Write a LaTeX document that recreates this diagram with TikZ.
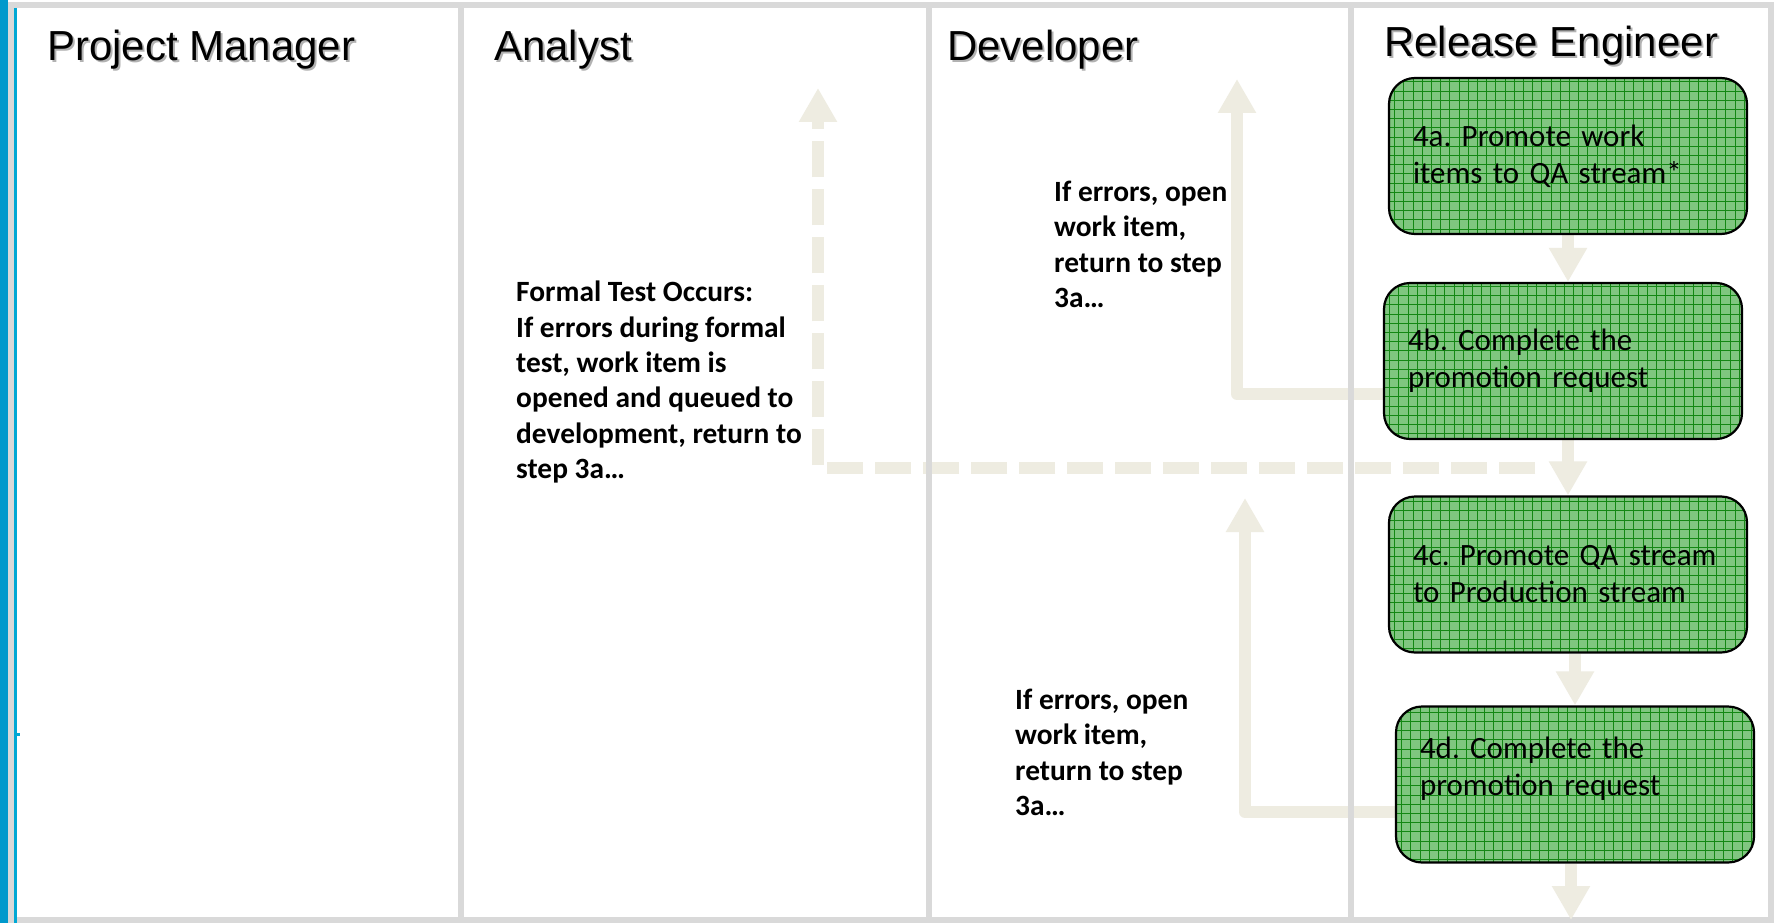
\documentclass[tikz,border=0pt]{standalone}
\usepackage{fontspec}
\setmainfont{Carlito}
\newfontfamily\headfont{Liberation Sans}
\usetikzlibrary{arrows.meta,calc}
\frenchspacing

\definecolor{laneline}{HTML}{D9D9D9}
\definecolor{bandblue}{HTML}{0099CC}
\definecolor{flowbeige}{HTML}{EEECE1}
\definecolor{stepgreen}{RGB}{128,198,128}
\definecolor{gridgreen}{RGB}{20,135,20}

\pgfdeclarelayer{back}
\pgfdeclarelayer{flow}
\pgfdeclarelayer{lanes}
\pgfsetlayers{back,flow,lanes,main}

\tikzset{
  stepbox/.style={draw=black, line width=2.2pt, rounded corners=26pt,
    fill=stepgreen, minimum width=358pt, minimum height=156pt,
    text width=310pt, align=left, inner xsep=24pt, inner ysep=0pt,
    font=\fontsize{31}{37}\selectfont,
    path picture={\draw[gridgreen, line width=0.8pt, step=9.2pt]
      (path picture bounding box.south west) grid (path picture bounding box.north east);}},
  note/.style={font=\bfseries\fontsize{29.4}{35.3}\selectfont, align=left,
    anchor=north west, inner sep=0pt},
  lanehead/.style={font=\headfont\fontsize{42}{50}\selectfont,
    anchor=base west, inner sep=0pt},
  headshadow/.style={lanehead, text=black!30},
  flowarrow/.style={draw=flowbeige, line width=12pt, line join=round,
    -{Triangle[width=36pt,length=34pt]}},
  dashflow/.style={flowarrow, dash pattern=on 36pt off 12pt},
}

\begin{document}
\begin{tikzpicture}[x=1pt,y=-1pt]
\useasboundingbox (0,0) rectangle (1776,923);

\begin{pgfonlayer}{back}
\fill[white] (0,0) rectangle (1776,923);
% left accent band
\fill[bandblue] (0,0) rectangle (8,923);
% outer frame
\draw[laneline, line width=6pt] (11,5) rectangle (1771,920);
\fill[bandblue!85!cyan] (14,8) rectangle (17,923);
\fill[bandblue!85!cyan] (17,733) rectangle (20,736);
\end{pgfonlayer}

% lane dividers drawn over the flow arrows
\begin{pgfonlayer}{lanes}
\draw[laneline, line width=6pt] (461,5) -- (461,920);
\draw[laneline, line width=6pt] (929,5) -- (929,920);
\draw[laneline, line width=6pt] (1351,5) -- (1351,920);
\end{pgfonlayer}

% lane headers
\node[headshadow] (shpm) at (49,63) {Project Manager};
\node[lanehead]   (hpm)  at (47,61) {Project Manager};
\node[headshadow] (shan) at (496,63) {Analyst};
\node[lanehead]   (han)  at (494,61) {Analyst};
\node[headshadow] (shdv) at (949,63) {Developer};
\node[lanehead]   (hdv)  at (947,61) {Developer};
\node[headshadow] (shre) at (1386,59) {Release Engineer};
\node[lanehead]   (hre)  at (1384,57) {Release Engineer};

% release steps
\node[stepbox] (s4a) at (1568,156)   {4a. Promote work\\items to QA stream*};
\node[stepbox] (s4b) at (1563,361)   {4b. Complete the\\promotion request};
\node[stepbox] (s4c) at (1568,574.5) {4c. Promote QA stream\\to Production stream};
\node[stepbox] (s4d) at (1575,784.5) {4d. Complete the\\promotion request\\\mbox{}};

% notes
\node[note] (nqa) at (516,281) {Formal Test Occurs:\\If errors during formal\\test, work item is\\opened and queued to\\development, return to\\step 3a…};
\node[note] (ndv1) at (1054,181) {If errors, open\\work item,\\return to step\\3a…};
\node[note] (ndv2) at (1015,689) {If errors, open\\work item,\\return to step\\3a…};

% flow arrows
\coordinate (ret1) at (1237,79);
\coordinate (ret2) at (1245,498);
\coordinate (dstart) at (1535,468);
\coordinate (dtip) at (818,88);
\coordinate (exit) at (1571,920);
\begin{pgfonlayer}{flow}
\draw[flowarrow] (s4a.south) -- (s4a.south |- s4b.north);
\draw[flowarrow] (s4c.north |- s4b.south) -- (s4c.north);
\draw[flowarrow] (s4d.north |- s4c.south) -- (s4d.north);
\draw[flowarrow] (s4d.south -| exit) -- (exit);
\draw[flowarrow] ($(s4b.west)+(0,33)$) -| (ret1);
\draw[flowarrow] ($(s4d.west)+(0,27.5)$) -| (ret2);
\draw[dashflow] (dstart) -| (dtip);
\end{pgfonlayer}

\end{tikzpicture}
\end{document}
